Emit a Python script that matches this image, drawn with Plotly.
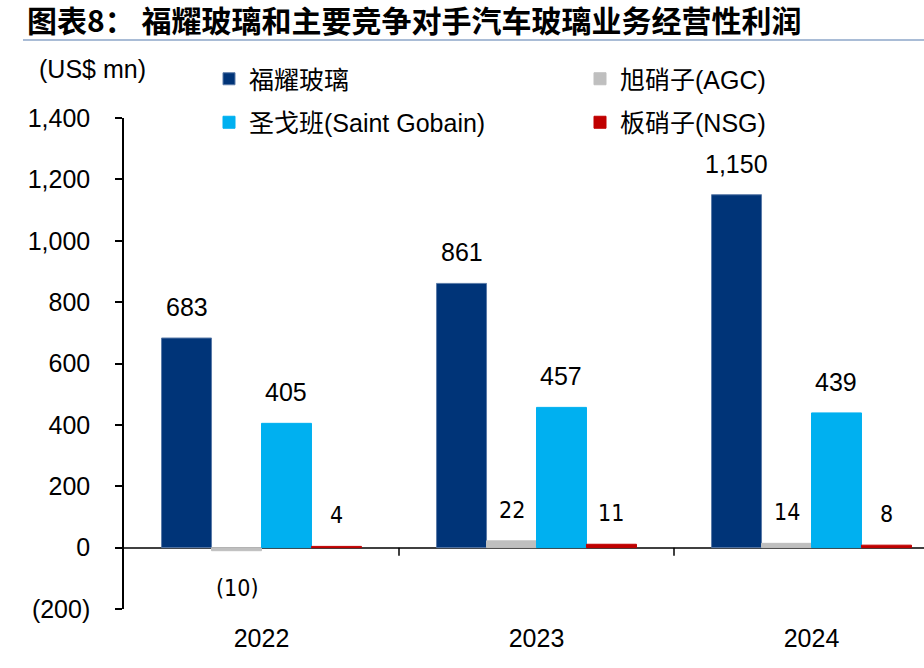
import plotly.graph_objects as go

# ---- data ----
years = ["2022", "2023", "2024"]
series_names = ["福耀玻璃", "旭硝子(AGC)", "圣戈班(Saint Gobain)", "板硝子(NSG)"]
fuyao = [683, 861, 1150]
agc = [-10, 22, 14]
saint_gobain = [405, 457, 439]
nsg = [4, 11, 8]
y_ticks = [-200, 0, 200, 400, 600, 800, 1000, 1200, 1400]
y_ticktext = ["(200)", "0", "200", "400", "600", "800", "1,000", "1,200", "1,400"]

colors = ["#003478", "#BFBFBF", "#00B0F0", "#C00000"]
values = [fuyao, agc, saint_gobain, nsg]
legend_of = ["legend", "legend2", "legend", "legend2"]

W, H = 924, 668
ML, MR, MT, MB = 124, 0, 118, 59
plot_w = W - ML - MR
plot_h = H - MT - MB
cat_px = 275.0
x_range = [-0.5, -0.5 + plot_w / cat_px]
bargap = 0.273
n_series = len(values)
bar_px = cat_px * (1 - bargap) / n_series

def fmt(v):
    return f"({abs(v):,})" if v < 0 else f"{v:,}"

fig = go.Figure()
for i, (name, vals, col) in enumerate(zip(series_names, values, colors)):
    line_col = "#5a7aa8" if i == 0 else col
    fig.add_trace(go.Bar(
        x=years, y=vals, name=name,
        marker=dict(color=col, line=dict(color=line_col, width=1)),
        legend=legend_of[i], legendgroup=name,
        hoverinfo="skip",
    ))

annotations = []
for i, vals in enumerate(values):
    offset = (i - (n_series - 1) / 2) * bar_px
    narrow = i in (1, 3)
    for j, v in enumerate(vals):
        annotations.append(dict(
            x=j, y=v, xref="x", yref="y", text=fmt(v), showarrow=False,
            xshift=offset, yshift=31 if v >= 0 else -37,
            xanchor="center", yanchor="middle",
            font=dict(family="Liberation Sans Narrow, Arial Narrow, DejaVu Sans Condensed" if narrow else "Liberation Sans, Arial",
                      size=23 if narrow else 25, color="#000000"),
        ))

annotations.append(dict(
    x=(37 - ML) / plot_w, y=(H - MB - 69) / plot_h, xref="paper", yref="paper",
    text="(US$ mn)", showarrow=False, xanchor="left", yanchor="middle",
    font=dict(family="Liberation Sans, Arial", size=25, color="#000000"),
))

shapes = [
    dict(type="line", xref="paper", yref="paper",
         x0=(23 - ML) / plot_w, x1=1.0, y0=(H - MB - 40) / plot_h, y1=(H - MB - 40) / plot_h,
         line=dict(color="#A9BCD6", width=2)),
]
for k in range(len(years) - 1):
    shapes.append(dict(type="line", xref="x", yref="y", ysizemode="pixel", yanchor=0,
                       x0=k + 0.5, x1=k + 0.5, y0=0, y1=-8,
                       line=dict(color="#000000", width=1.5)))

legend_font = dict(family="Liberation Sans, Noto Sans CJK SC", size=25, color="#000000")

fig.update_layout(
    width=W, height=H,
    margin=dict(l=ML, r=MR, t=MT, b=MB),
    paper_bgcolor="white", plot_bgcolor="white",
    barmode="group", bargap=bargap, bargroupgap=0,
    title=dict(text="<b>图表8： 福耀玻璃和主要竞争对手汽车玻璃业务经营性利润</b>",
               x=27 / W, xanchor="left", y=1 - 21 / H, yanchor="middle",
               font=dict(family="Noto Sans CJK SC", size=30, color="#000000")),
    xaxis=dict(type="category", range=x_range, showline=False, showgrid=False, ticks="",
               tickfont=dict(family="Liberation Sans, Arial", size=25, color="#000000"),
               ticklabelstandoff=12, zeroline=False),
    yaxis=dict(range=[-200, 1400], tickvals=y_ticks, ticktext=y_ticktext,
               showline=True, linecolor="#000000", linewidth=1.5,
               ticks="outside", ticklen=7, tickwidth=1.5, tickcolor="#000000",
               showgrid=False, zeroline=True, zerolinecolor="#404040", zerolinewidth=1.5,
               tickfont=dict(family="Liberation Sans, Arial", size=25, color="#000000"),
               ticklabelstandoff=20),
    legend=dict(x=(209 - ML) / plot_w, y=(H - MB - 56) / plot_h, xanchor="left", yanchor="top",
                orientation="v", font=legend_font, traceorder="grouped", tracegroupgap=8,
                bgcolor="rgba(0,0,0,0)"),
    legend2=dict(x=(580 - ML) / plot_w, y=(H - MB - 56) / plot_h, xanchor="left", yanchor="top",
                 orientation="v", font=legend_font, traceorder="grouped", tracegroupgap=8,
                 bgcolor="rgba(0,0,0,0)"),
    annotations=annotations,
    shapes=shapes,
    showlegend=True,
)

fig.write_html("out.html", config={"displayModeBar": False},
               post_script="document.body.style.margin='0';")
